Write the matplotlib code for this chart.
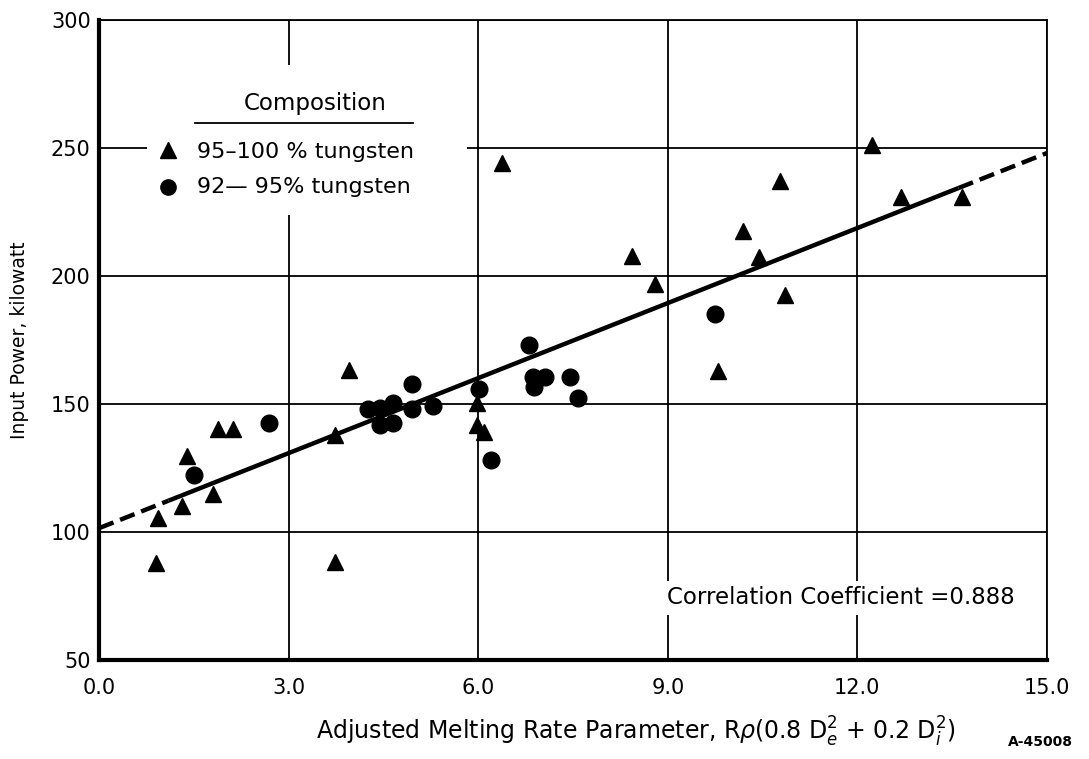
"""Input power vs adjusted melting rate parameter, two tungsten compositions."""

import matplotlib

matplotlib.use("Agg")
import matplotlib.pyplot as plt
import numpy as np
from matplotlib.patches import Rectangle

# 95-100 % tungsten (triangles)
tri_x = [0.93, 0.90, 1.31, 1.39, 1.81, 1.89, 2.12, 3.73, 3.73, 3.95, 5.98, 5.98,
         6.10, 6.38, 8.44, 8.80, 9.80, 10.19, 10.45, 10.78, 10.85, 12.23, 12.69, 13.65]
tri_y = [105.3, 87.8, 110.2, 129.7, 114.8, 140.1, 140.1, 137.9, 88.4, 163.3, 150.3, 142.0,
         139.0, 244.3, 208.0, 197.0, 163.0, 217.7, 207.5, 237.0, 192.6, 251.0, 230.7, 230.7]

# 92-95 % tungsten (circles)
dot_x = [1.51, 2.69, 4.26, 4.45, 4.45, 4.66, 4.66, 4.95, 4.95, 5.28, 6.02, 6.21,
         6.81, 6.87, 7.06, 6.89, 7.45, 7.58, 9.74]
dot_y = [122.3, 142.7, 147.9, 148.3, 141.8, 150.3, 142.5, 158.0, 147.9, 149.2, 155.7, 128.1,
         173.0, 160.7, 160.7, 156.8, 160.4, 152.5, 185.0]

# fitted line: solid over data range, dashed extrapolation
fit_intercept = 101.5
fit_slope = 9.77
fit_solid = [1.1, 13.6]
fit_ends = [0.0, 15.0]

x_ticks = [0, 3, 6, 9, 12, 15]
y_ticks = [50, 100, 150, 200, 250, 300]

plt.rcParams["font.family"] = ["DejaVu Sans"]

fig = plt.figure(figsize=(10.89, 7.59), dpi=100)
ax = fig.add_axes([0.0909, 0.1304, 0.8705, 0.8432])

ax.set_xlim(0, 15)
ax.set_ylim(50, 300)
ax.set_xticks(x_ticks)
ax.set_xticklabels([f"{v:.1f}" for v in x_ticks])
ax.set_yticks(y_ticks)
ax.set_axisbelow(True)
ax.grid(True, color="black", linewidth=1.3)
ax.tick_params(length=0, labelsize=15, colors="black")
ax.tick_params(axis="x", pad=13)
ax.tick_params(axis="y", pad=6)
for side in ["left", "bottom"]:
    ax.spines[side].set_linewidth(3.0)
for side in ["top", "right"]:
    ax.spines[side].set_linewidth(1.3)


def fit(x):
    return fit_intercept + fit_slope * np.asarray(x)


dash = (0, (3.5, 1.6))
ax.plot(fit_solid, fit(fit_solid), color="black", lw=3.2, solid_capstyle="butt", zorder=3)
ax.plot([fit_ends[0], fit_solid[0]], fit([fit_ends[0], fit_solid[0]]), color="black",
        lw=3.2, ls=dash, zorder=3)
ax.plot([fit_solid[1], fit_ends[1]], fit([fit_solid[1], fit_ends[1]]), color="black",
        lw=3.2, ls=dash, zorder=3)

ax.plot(tri_x, tri_y, ls="none", marker="^", ms=12, color="black", zorder=4, clip_on=False)
ax.plot(dot_x, dot_y, ls="none", marker="o", ms=12, color="black", zorder=4, clip_on=False)

# legend drawn by hand on a white patch that hides the grid behind it
ax.add_patch(Rectangle((0.051, 0.695), 0.337, 0.235, transform=ax.transAxes,
                       facecolor="white", edgecolor="none", zorder=1))
ax.text(0.228, 0.870, "Composition", transform=ax.transAxes, ha="center", va="center",
        fontsize=16.5, zorder=5)
ax.plot([0.101, 0.331], [0.839, 0.839], transform=ax.transAxes, color="black", lw=1.3, zorder=5)
ax.plot([0.073], [0.797], transform=ax.transAxes, marker="^", ms=11, color="black", zorder=5)
ax.plot([0.073], [0.739], transform=ax.transAxes, marker="o", ms=11, color="black", zorder=5)
ax.text(0.103, 0.794, "95\u2013100 % tungsten", transform=ax.transAxes, va="center",
        fontsize=16, zorder=5)
ax.text(0.103, 0.739, "92\u2014 95% tungsten", transform=ax.transAxes, va="center",
        fontsize=16, zorder=5)

ax.text(0.966, 0.097, "Correlation Coefficient =0.888", transform=ax.transAxes,
        ha="right", va="center", fontsize=16.5, zorder=5,
        bbox=dict(facecolor="white", edgecolor="none", pad=4))

ax.set_ylabel("Input Power, kilowatt", fontsize=13.5, labelpad=16)
ax.set_xlabel(r"Adjusted Melting Rate Parameter, R$\rho$(0.8 D$_e^2$ + 0.2 D$_i^2$)",
              fontsize=17)
ax.xaxis.set_label_coords(0.566, -0.085)
fig.text(0.955, 0.0224, "A-45008", ha="center", va="center", fontsize=10, fontweight="bold")

fig.savefig("out.png", dpi=100)
